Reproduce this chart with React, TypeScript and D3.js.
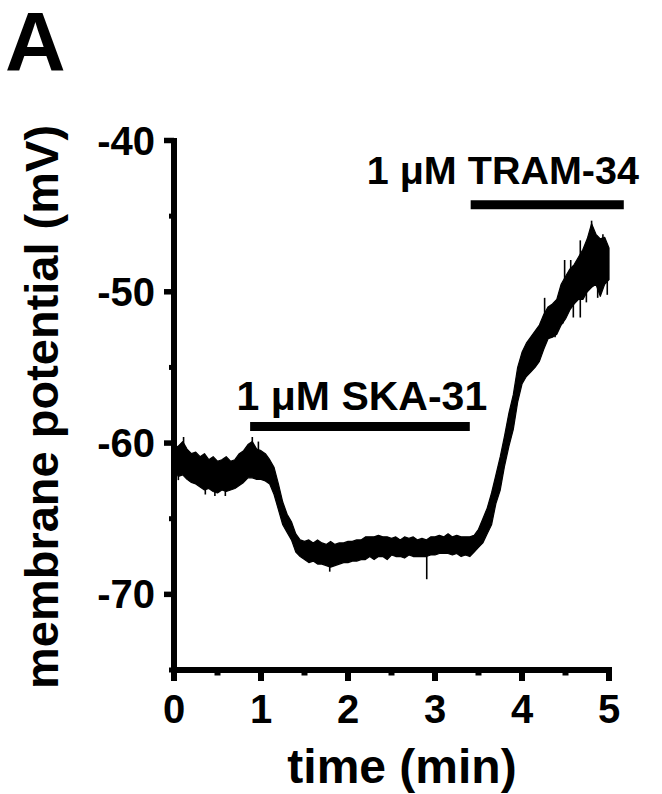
import React from "react";
import * as d3 from "d3";

// recording read off the figure, sampled every 0.05 min (0 .. 5 min)
// upper / lower edge of the noisy trace, mV
const traceUpper = [
  -60.4, -60.2, -59.9, -60.4, -60.7, -60.6, -60.9, -60.7, -61.1, -60.9,
  -61.2, -61.1, -60.9, -61.2, -61.1, -60.7, -60.5, -60.1, -59.9, -60.4,
  -60.5, -60.7, -61.1, -61.6, -62.7, -63.9, -64.7, -65.2, -66.0, -66.4,
  -66.5, -66.4, -66.6, -66.4, -66.6, -66.7, -66.5, -66.7, -66.6, -66.6,
  -66.5, -66.5, -66.4, -66.4, -66.2, -66.2, -66.2, -66.1, -66.2, -66.2,
  -66.3, -66.2, -66.4, -66.2, -66.3, -66.2, -66.4, -66.3, -66.4, -66.2,
  -66.2, -66.1, -66.2, -66.0, -66.2, -66.1, -66.2, -66.2, -66.2, -66.1,
  -65.7, -65.0, -64.3, -63.3, -62.1, -60.9, -59.5, -58.0, -56.8, -55.0,
  -54.0, -53.4, -53.0, -52.6, -52.2, -51.5, -51.0, -50.8, -50.5, -49.5,
  -49.0, -48.5, -48.2, -47.7, -47.2, -46.5, -45.5, -46.2, -46.5, -46.4,
  -47.1,
];
const traceLower = [
  -61.7, -62.2, -62.1, -62.4, -62.6, -62.7, -62.9, -63.1, -63.0, -63.2,
  -63.3, -63.1, -63.2, -63.1, -63.0, -62.8, -62.6, -62.3, -62.3, -62.4,
  -62.4, -62.5, -62.7, -63.4, -64.4, -65.4, -65.9, -66.4, -67.2, -67.5,
  -67.7, -67.9, -67.8, -68.0, -68.0, -68.1, -68.2, -68.1, -68.0, -67.9,
  -67.9, -67.8, -67.8, -67.7, -67.7, -67.5, -67.7, -67.5, -67.5, -67.7,
  -67.4, -67.5, -67.5, -67.6, -67.4, -67.5, -67.5, -67.5, -67.5, -67.4,
  -67.4, -67.3, -67.3, -67.3, -67.4, -67.3, -67.5, -67.4, -67.5, -67.2,
  -66.9, -66.6, -66.0, -65.4, -64.0, -63.1, -61.5, -60.2, -59.1, -57.3,
  -56.1, -55.6, -55.3, -55.0, -54.6, -53.8, -53.1, -53.0, -52.8, -52.2,
  -51.8, -51.2, -50.8, -50.5, -50.5, -50.0, -49.7, -49.5, -50.3, -49.5,
  -49.2,
];
const sampleStep = 0.05;
const sampleTimes = d3.range(traceUpper.length).map((i) => i * sampleStep);

// single excursions poking out of the band [time (min), mV]
const spikes: [number, number][] = [
  [0.05, -62.45],
  [0.11, -59.6],
  [0.36, -63.4],
  [0.47, -63.5],
  [0.59, -63.5],
  [0.9, -59.6],
  [0.97, -59.9],
  [1.79, -68.5],
  [2.905, -69.0],
  [4.02, -53.9],
  [4.12, -52.9],
  [4.26, -50.4],
  [4.38, -53.0],
  [4.47, -52.1],
  [4.49, -47.9],
  [4.53, -50.9],
  [4.56, -47.9],
  [4.59, -51.7],
  [4.67, -51.7],
  [4.67, -46.6],
  [4.74, -50.7],
  [4.8, -45.3],
  [4.87, -50.4],
  [4.93, -46.2],
  [4.98, -50.2],
];

// drug application bars
const drugs = [
  { label: "1 μM SKA-31", start: 0.875, end: 3.4, level: -58.9, size: 41 },
  { label: "1 μM TRAM-34", start: 3.41, end: 5.17, level: -44.25, size: 39.5 },
];
const drugLabelPos = [
  { t: 2.16, v: -57.8 },
  { t: 3.78, v: -42.9 },
];

const yMajor = [-40, -50, -60, -70];
const yMinor = [-45, -55, -65, -75];
const xMajor = [0, 1, 2, 3, 4, 5];
const xMinor = [0.5, 1.5, 2.5, 3.5, 4.5];

const FONT = "'Liberation Sans', Arial, Helvetica, sans-serif";

export default function App() {
  const width = 662;
  const height = 794;

  const x = d3.scaleLinear().domain([0, 5]).range([174, 609]);
  const y = d3.scaleLinear().domain([-75, -40]).range([670, 140.5]);

  const area = d3
    .area<number>()
    .x((d, i) => x(sampleTimes[i]))
    .y0((d, i) => y(traceLower[i]))
    .y1((d) => y(d));

  const bandPath = area(traceUpper) || "";

  const spikeBase = (t: number) => {
    const i = Math.round(t / sampleStep);
    return (traceUpper[i] + traceLower[i]) / 2;
  };

  const axisX = x(0);
  const axisY = y(-75);

  return (
    <svg
      width={width}
      height={height}
      style={{ position: "absolute", left: 0, top: 0, background: "#fff" }}
      fontFamily={FONT}
      fontWeight="bold"
    >
      <text x={5} y={71} fontSize={84}>
        A
      </text>

      {/* trace */}
      <path d={bandPath} fill="#000" stroke="#000" strokeWidth={1.2} strokeLinejoin="round" />
      {spikes.map(([t, v], i) => (
        <line
          key={"sp" + i}
          x1={x(t)}
          x2={x(t)}
          y1={y(spikeBase(t))}
          y2={y(v)}
          stroke="#000"
          strokeWidth={1.6}
        />
      ))}

      {/* drug bars */}
      {drugs.map((d, i) => (
        <g key={d.label}>
          <line
            x1={x(d.start)}
            x2={x(d.end)}
            y1={y(d.level)}
            y2={y(d.level)}
            stroke="#000"
            strokeWidth={9}
          />
          <text
            x={x(drugLabelPos[i].t)}
            y={y(drugLabelPos[i].v)}
            fontSize={d.size}
            textAnchor="middle"
          >
            {d.label}
          </text>
        </g>
      ))}

      {/* y axis */}
      <line x1={axisX} x2={axisX} y1={y(-40) - 2.5} y2={axisY + 3} stroke="#000" strokeWidth={6} />
      {yMajor.map((v) => (
        <g key={"ym" + v}>
          <line x1={axisX - 10} x2={axisX} y1={y(v)} y2={y(v)} stroke="#000" strokeWidth={5.5} />
          <text x={155} y={y(v) + 14} fontSize={40} textAnchor="end">
            {v}
          </text>
        </g>
      ))}
      {yMinor.map((v) => (
        <line key={"yn" + v} x1={axisX - 5} x2={axisX} y1={y(v)} y2={y(v)} stroke="#000" strokeWidth={5} />
      ))}

      {/* x axis */}
      <line x1={axisX - 3} x2={x(5) + 3} y1={axisY} y2={axisY} stroke="#000" strokeWidth={6} />
      {xMajor.map((t) => (
        <g key={"xm" + t}>
          <line x1={x(t)} x2={x(t)} y1={axisY} y2={axisY + 11} stroke="#000" strokeWidth={6} />
          <text x={x(t)} y={723} fontSize={40} textAnchor="middle">
            {t}
          </text>
        </g>
      ))}
      {xMinor.map((t) => (
        <line key={"xn" + t} x1={x(t)} x2={x(t)} y1={axisY} y2={axisY + 5.5} stroke="#000" strokeWidth={6} />
      ))}

      <text x={402} y={783} fontSize={48} textAnchor="middle">
        time (min)
      </text>
      <text
        transform={`translate(58, 407) rotate(-90)`}
        fontSize={47}
        textAnchor="middle"
      >
        membrane potential (mV)
      </text>
    </svg>
  );
}
